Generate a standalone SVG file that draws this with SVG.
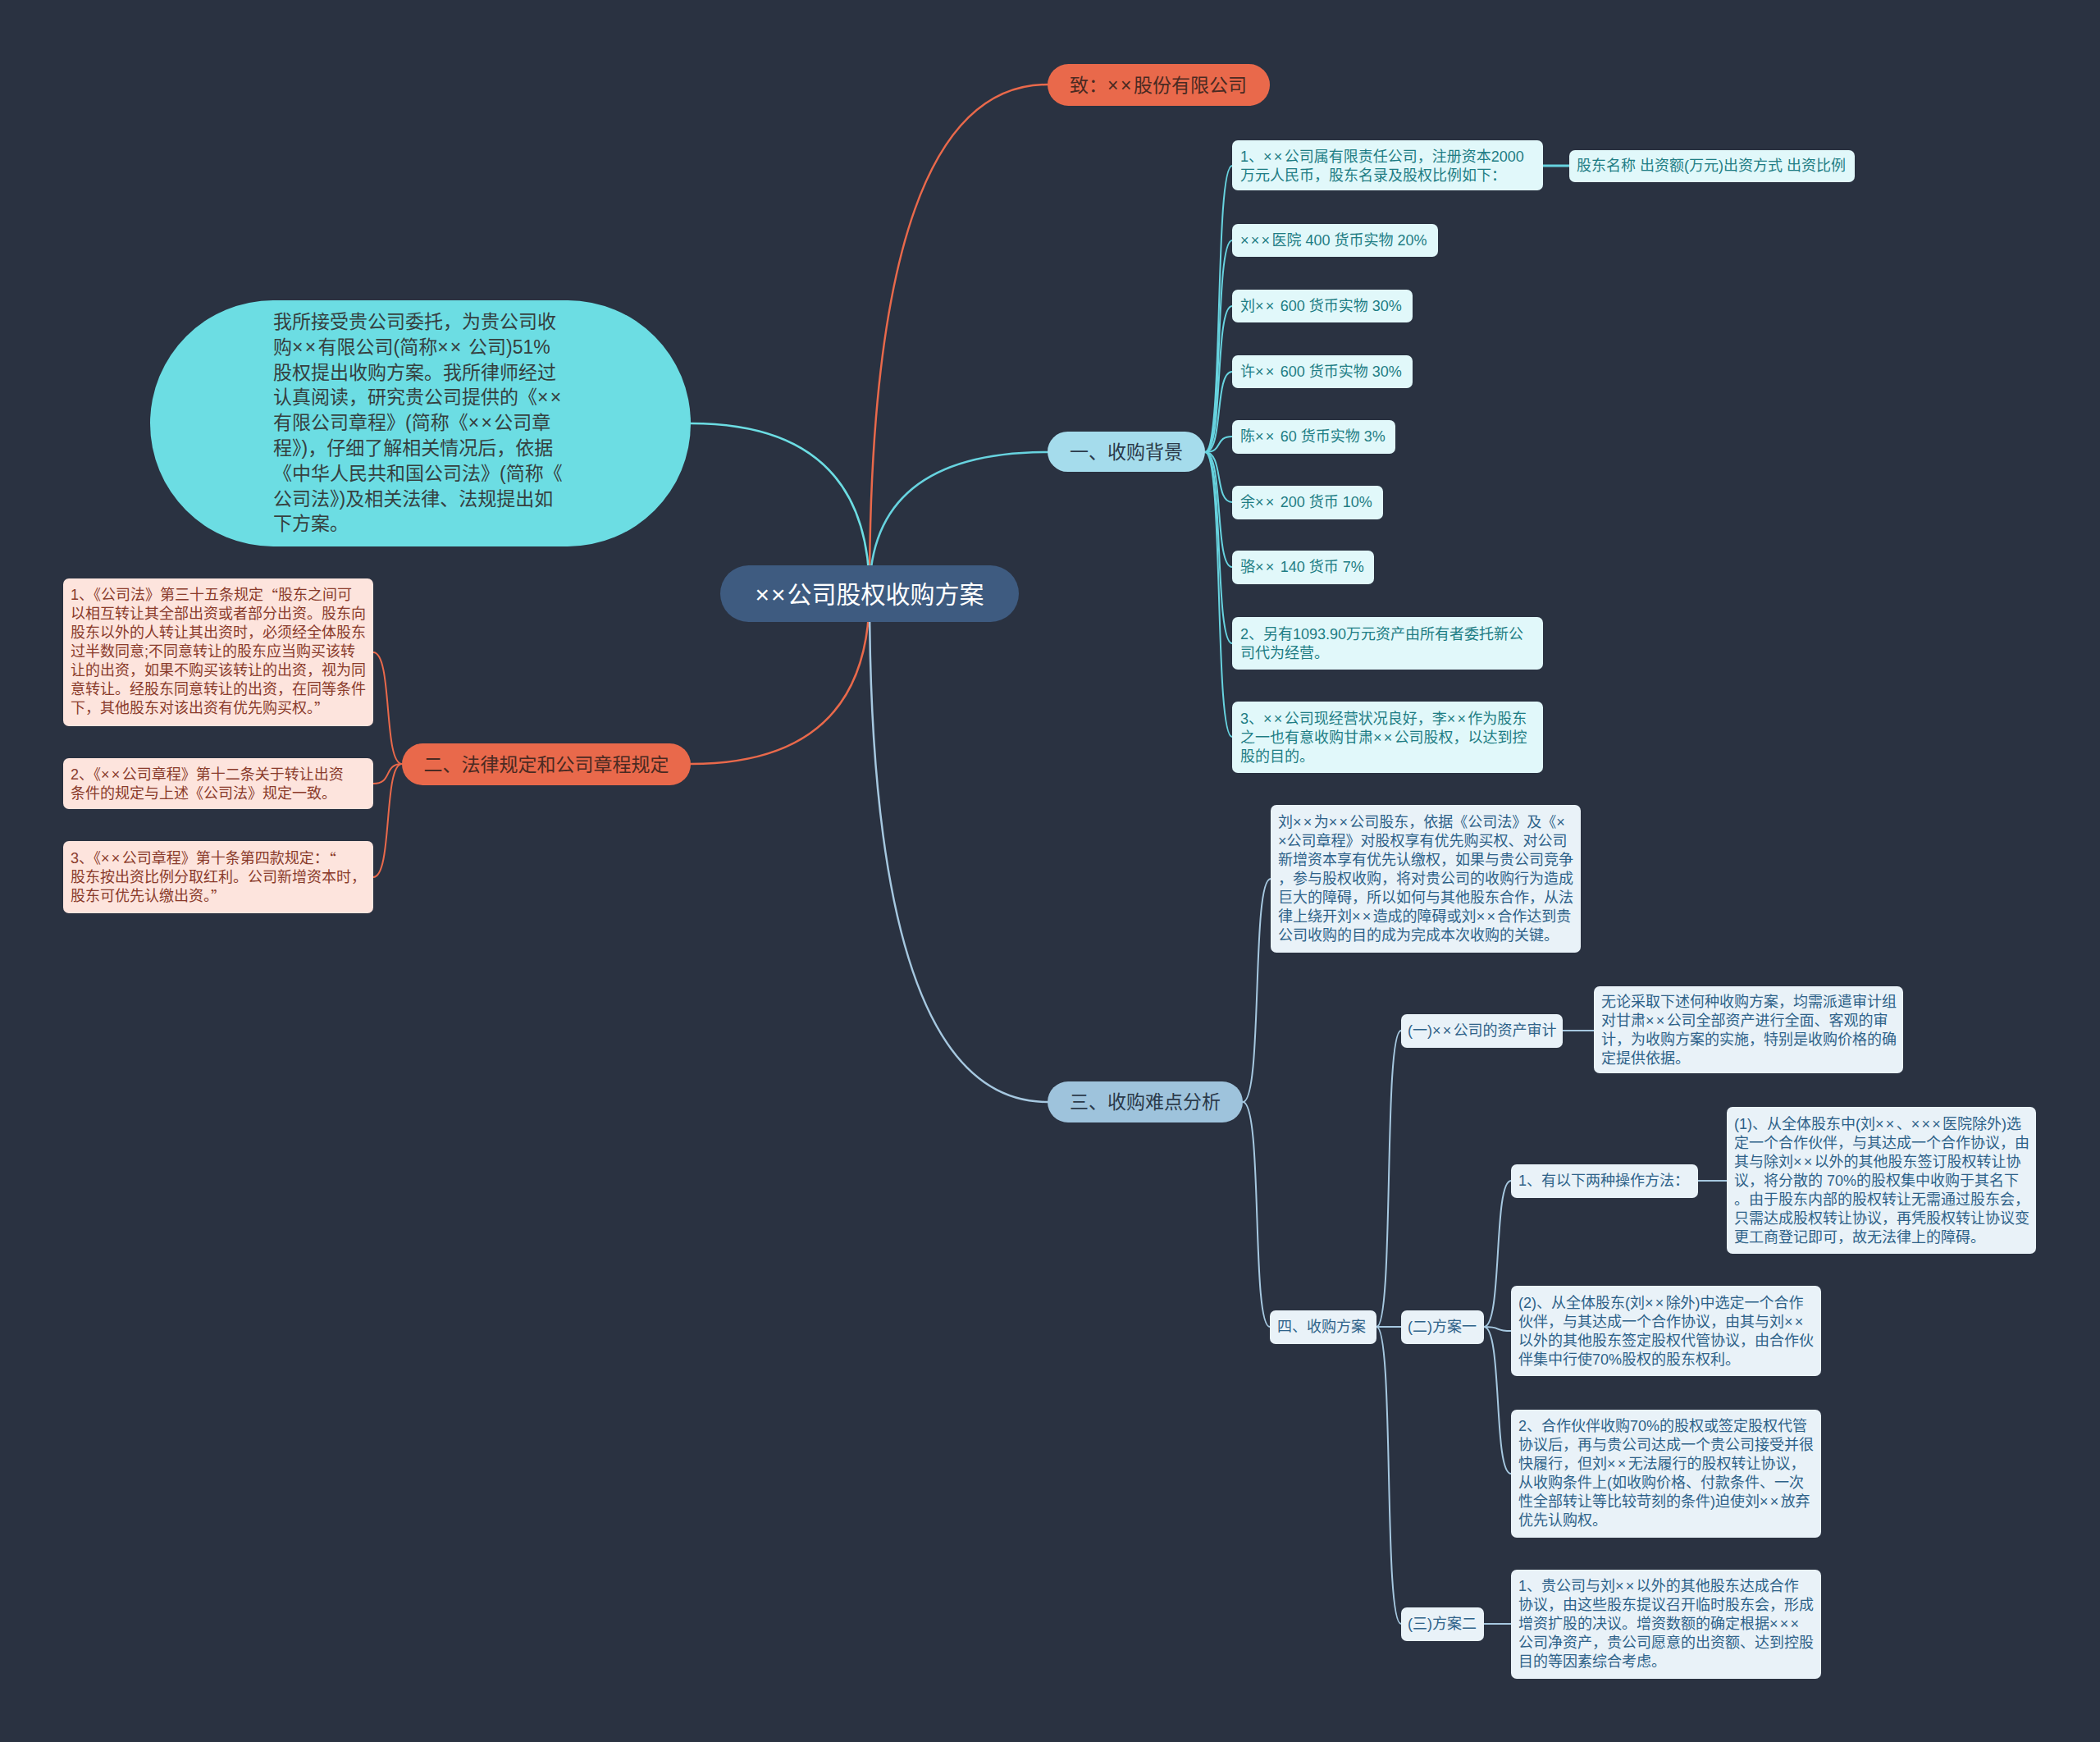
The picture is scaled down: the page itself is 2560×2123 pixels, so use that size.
<svg xmlns="http://www.w3.org/2000/svg" width="2560" height="2123" viewBox="0 0 2560 2123">
<style>
text{font-family:"Liberation Sans","Noto Sans CJK SC",sans-serif;dominant-baseline:central}
.x{letter-spacing:2.3px}
.q{font-family:"Noto Sans CJK SC",sans-serif}
.c{fill:none;stroke-width:2.5;stroke-linecap:round}
.or{stroke:#e9694b}.cy{stroke:#67d3df}.tq{stroke:#6cdde3}.bl{stroke:#a6c8e0}
.t23{font-size:23px}.t18{font-size:18px}
.lp{fill:#fde4dd}.lpt{fill:#8a3b2b}
.lc{fill:#e1f8fa}.lct{fill:#1e7d84}
.lb{fill:#e9f2f8}.lbt{fill:#2e6289}
</style>
<rect width="2560" height="2123" fill="#2a3241"/>
<g id="connectors">
<path class="c or" d="M1060 723 Q1060 103 1277 103"/>
<path class="c cy" d="M1060 723 Q1060 551 1277 551"/>
<path class="c tq" d="M1060 723 Q1060 516 842 516"/>
<path class="c or" d="M1060 723 Q1060 931 842 931"/>
<path class="c bl" d="M1060 723 Q1060 1343 1277 1343"/>
<g class="c cy" style="stroke-width:2">
<path d="M1469 551 C1492 551 1480 202 1502 202"/>
<path d="M1469 551 C1492 551 1480 293 1502 293"/>
<path d="M1469 551 C1492 551 1480 373 1502 373"/>
<path d="M1469 551 C1492 551 1480 453 1502 453"/>
<path d="M1469 551 C1492 551 1480 532 1502 532"/>
<path d="M1469 551 C1492 551 1480 612 1502 612"/>
<path d="M1469 551 C1492 551 1480 691 1502 691"/>
<path d="M1469 551 C1492 551 1480 784 1502 784"/>
<path d="M1469 551 C1492 551 1480 898 1502 898"/>
<path d="M1881 202 L1913 202" style="stroke-width:3"/>
</g>
<g class="c or" style="stroke-width:2">
<path d="M490 931 C467 931 479 795 455 795"/>
<path d="M490 931 C467 931 479 955 455 955"/>
<path d="M490 931 C467 931 479 1069 455 1069"/>
</g>
<g class="c bl" style="stroke-width:2">
<path d="M1515 1343 C1540 1343 1525 1071 1549 1071"/>
<path d="M1515 1343 C1540 1343 1525 1617 1548 1617"/>
<path d="M1678 1617 C1700 1617 1686 1256 1708 1256"/>
<path d="M1678 1617 L1708 1617"/>
<path d="M1678 1617 C1700 1617 1686 1979 1708 1979"/>
<path d="M1905 1256 L1943 1256"/>
<path d="M1809 1617 C1832 1617 1820 1439 1842 1439"/>
<path d="M1809 1617 C1832 1617 1820 1622 1842 1622"/>
<path d="M1809 1617 C1832 1617 1820 1796 1842 1796"/>
<path d="M2070 1439 L2105 1439"/>
<path d="M1809 1979 L1842 1979"/>
</g>
</g>
<g id="root">
<rect x="878" y="689" width="364" height="69" rx="34.5" fill="#3e5b80"/>
<text x="1060" y="724" font-size="30" fill="#ffffff" text-anchor="middle"><tspan style="letter-spacing:2px">××</tspan>公司股权收购方案</text>
</g>
<g id="n-zhi">
<rect x="1277" y="78" width="271" height="51" rx="25.5" fill="#e9694b"/>
<text class="t23" x="1412" y="104" fill="#4a2a22" text-anchor="middle">致：<tspan style="letter-spacing:2.5px">××</tspan>股份有限公司</text>
</g>
<g id="n-intro">
<rect x="183" y="366" width="659" height="300" rx="150" fill="#6cdde3"/>
<text class="t23" fill="#36403f">
<tspan x="333" y="392">我所接受贵公司委托，为贵公司收</tspan>
<tspan x="333" y="423">购<tspan class="x">××</tspan>有限公司(简称<tspan class="x">××</tspan> 公司)51%</tspan>
<tspan x="333" y="454">股权提出收购方案。我所律师经过</tspan>
<tspan x="333" y="484">认真阅读，研究贵公司提供的《<tspan class="x">××</tspan></tspan>
<tspan x="333" y="515">有限公司章程》(简称《<tspan class="x">××</tspan>公司章</tspan>
<tspan x="333" y="546">程》)，仔细了解相关情况后，依据</tspan>
<tspan x="333" y="577">《中华人民共和国公司法》(简称《</tspan>
<tspan x="333" y="608">公司法》)及相关法律、法规提出如</tspan>
<tspan x="333" y="638">下方案。</tspan>
</text>
</g>
<g id="n-bg">
<rect x="1277" y="526" width="192" height="49" rx="24.5" fill="#a5dcec"/>
<text class="t23" x="1373" y="551" fill="#2b3a4a" text-anchor="middle">一、收购背景</text>
</g>
<g id="n-law">
<rect x="490" y="906" width="352" height="51" rx="25.5" fill="#e9694b"/>
<text class="t23" x="666" y="932" fill="#4a2a22" text-anchor="middle">二、法律规定和公司章程规定</text>
</g>
<g id="n-diff">
<rect x="1277" y="1318" width="238" height="50" rx="25" fill="#9ec3dc"/>
<text class="t23" x="1396" y="1343" fill="#2b3a4a" text-anchor="middle">三、收购难点分析</text>
</g>
<g id="law-1">
<rect class="lp" x="77" y="705" width="378" height="180" rx="7"/>
<text class="t18 lpt">
<tspan x="86" y="725">1、《公司法》第三十五条规定<tspan class="q">“</tspan>股东之间可</tspan>
<tspan x="86" y="748">以相互转让其全部出资或者部分出资。股东向</tspan>
<tspan x="86" y="771">股东以外的人转让其出资时，必须经全体股东</tspan>
<tspan x="86" y="794">过半数同意;不同意转让的股东应当购买该转</tspan>
<tspan x="86" y="817">让的出资，如果不购买该转让的出资，视为同</tspan>
<tspan x="86" y="840">意转让。经股东同意转让的出资，在同等条件</tspan>
<tspan x="86" y="863">下，其他股东对该出资有优先购买权。<tspan class="q">”</tspan></tspan>
</text>
</g>
<g id="law-2">
<rect class="lp" x="77" y="924" width="378" height="62" rx="7"/>
<text class="t18 lpt">
<tspan x="86" y="944">2、《<tspan class="x">××</tspan>公司章程》第十二条关于转让出资</tspan>
<tspan x="86" y="967">条件的规定与上述《公司法》规定一致。</tspan>
</text>
</g>
<g id="law-3">
<rect class="lp" x="77" y="1025" width="378" height="88" rx="7"/>
<text class="t18 lpt">
<tspan x="86" y="1046">3、《<tspan class="x">××</tspan>公司章程》第十条第四款规定：<tspan class="q">“</tspan></tspan>
<tspan x="86" y="1069">股东按出资比例分取红利。公司新增资本时，</tspan>
<tspan x="86" y="1092">股东可优先认缴出资。<tspan class="q">”</tspan></tspan>
</text>
</g>
<g id="bg-1">
<rect class="lc" x="1502" y="171" width="379" height="61" rx="7"/>
<text class="t18 lct">
<tspan x="1512" y="191">1、<tspan class="x">××</tspan>公司属有限责任公司，注册资本2000</tspan>
<tspan x="1512" y="214">万元人民币，股东名录及股权比例如下：</tspan>
</text>
</g>
<g id="bg-1a">
<rect class="lc" x="1913" y="183" width="348" height="39" rx="7"/>
<text class="t18 lct" x="1922" y="202">股东名称 出资额(万元)出资方式 出资比例</text>
</g>
<g id="bg-h1">
<rect class="lc" x="1502" y="273" width="251" height="40" rx="7"/>
<text class="t18 lct" x="1512" y="293"><tspan class="x">×××</tspan>医院 400 货币实物 20%</text>
</g>
<g id="bg-h2">
<rect class="lc" x="1502" y="353" width="220" height="40" rx="7"/>
<text class="t18 lct" x="1512" y="373">刘<tspan class="x">××</tspan> 600 货币实物 30%</text>
</g>
<g id="bg-h3">
<rect class="lc" x="1502" y="433" width="220" height="40" rx="7"/>
<text class="t18 lct" x="1512" y="453">许<tspan class="x">××</tspan> 600 货币实物 30%</text>
</g>
<g id="bg-h4">
<rect class="lc" x="1502" y="512" width="199" height="41" rx="7"/>
<text class="t18 lct" x="1512" y="532">陈<tspan class="x">××</tspan> 60 货币实物 3%</text>
</g>
<g id="bg-h5">
<rect class="lc" x="1502" y="592" width="184" height="41" rx="7"/>
<text class="t18 lct" x="1512" y="612">余<tspan class="x">××</tspan> 200 货币 10%</text>
</g>
<g id="bg-h6">
<rect class="lc" x="1502" y="671" width="173" height="41" rx="7"/>
<text class="t18 lct" x="1512" y="691">骆<tspan class="x">××</tspan> 140 货币 7%</text>
</g>
<g id="bg-2">
<rect class="lc" x="1502" y="752" width="379" height="64" rx="7"/>
<text class="t18 lct">
<tspan x="1512" y="773">2、另有1093.90万元资产由所有者委托新公</tspan>
<tspan x="1512" y="796">司代为经营。</tspan>
</text>
</g>
<g id="bg-3">
<rect class="lc" x="1502" y="855" width="379" height="87" rx="7"/>
<text class="t18 lct">
<tspan x="1512" y="876">3、<tspan class="x">××</tspan>公司现经营状况良好，李<tspan class="x">××</tspan>作为股东</tspan>
<tspan x="1512" y="899">之一也有意收购甘肃<tspan class="x">××</tspan>公司股权，以达到控</tspan>
<tspan x="1512" y="922">股的目的。</tspan>
</text>
</g>
<g id="diff-1">
<rect class="lb" x="1549" y="981" width="378" height="180" rx="7"/>
<text class="t18 lbt">
<tspan x="1558" y="1002">刘<tspan class="x">××</tspan>为<tspan class="x">××</tspan>公司股东，依据《公司法》及《×</tspan>
<tspan x="1558" y="1025">×公司章程》对股权享有优先购买权、对公司</tspan>
<tspan x="1558" y="1048">新增资本享有优先认缴权，如果与贵公司竞争</tspan>
<tspan x="1558" y="1071">，参与股权收购，将对贵公司的收购行为造成</tspan>
<tspan x="1558" y="1094">巨大的障碍，所以如何与其他股东合作，从法</tspan>
<tspan x="1558" y="1117">律上绕开刘<tspan class="x">××</tspan>造成的障碍或刘<tspan class="x">××</tspan>合作达到贵</tspan>
<tspan x="1558" y="1140">公司收购的目的成为完成本次收购的关键。</tspan>
</text>
</g>
<g id="plan">
<rect class="lb" x="1548" y="1597" width="130" height="41" rx="7"/>
<text class="t18 lbt" x="1557" y="1617">四、收购方案</text>
</g>
<g id="plan-1">
<rect class="lb" x="1708" y="1236" width="197" height="41" rx="7"/>
<text class="t18 lbt" x="1716" y="1256">(一)<tspan class="x">××</tspan>公司的资产审计</text>
</g>
<g id="plan-1a">
<rect class="lb" x="1943" y="1202" width="377" height="106" rx="7"/>
<text class="t18 lbt">
<tspan x="1952" y="1221">无论采取下述何种收购方案，均需派遣审计组</tspan>
<tspan x="1952" y="1244">对甘肃<tspan class="x">××</tspan>公司全部资产进行全面、客观的审</tspan>
<tspan x="1952" y="1267">计，为收购方案的实施，特别是收购价格的确</tspan>
<tspan x="1952" y="1290">定提供依据。</tspan>
</text>
</g>
<g id="plan-2">
<rect class="lb" x="1708" y="1597" width="101" height="41" rx="7"/>
<text class="t18 lbt" x="1716" y="1617">(二)方案一</text>
</g>
<g id="plan-2a">
<rect class="lb" x="1842" y="1419" width="228" height="41" rx="7"/>
<text class="t18 lbt" x="1851" y="1439">1、有以下两种操作方法：</text>
</g>
<g id="plan-2a1">
<rect class="lb" x="2105" y="1349" width="377" height="179" rx="7"/>
<text class="t18 lbt">
<tspan x="2114" y="1370">(1)、从全体股东中(刘<tspan class="x">××</tspan>、<tspan class="x">×××</tspan>医院除外)选</tspan>
<tspan x="2114" y="1393">定一个合作伙伴，与其达成一个合作协议，由</tspan>
<tspan x="2114" y="1416">其与除刘<tspan class="x">××</tspan>以外的其他股东签订股权转让协</tspan>
<tspan x="2114" y="1439">议，将分散的 70%的股权集中收购于其名下</tspan>
<tspan x="2114" y="1462">。由于股东内部的股权转让无需通过股东会，</tspan>
<tspan x="2114" y="1485">只需达成股权转让协议，再凭股权转让协议变</tspan>
<tspan x="2114" y="1508">更工商登记即可，故无法律上的障碍。</tspan>
</text>
</g>
<g id="plan-2b">
<rect class="lb" x="1842" y="1567" width="378" height="110" rx="7"/>
<text class="t18 lbt">
<tspan x="1851" y="1588">(2)、从全体股东(刘<tspan class="x">××</tspan>除外)中选定一个合作</tspan>
<tspan x="1851" y="1611">伙伴，与其达成一个合作协议，由其与刘<tspan class="x">××</tspan></tspan>
<tspan x="1851" y="1634">以外的其他股东签定股权代管协议，由合作伙</tspan>
<tspan x="1851" y="1657">伴集中行使70%股权的股东权利。</tspan>
</text>
</g>
<g id="plan-2c">
<rect class="lb" x="1842" y="1718" width="378" height="156" rx="7"/>
<text class="t18 lbt">
<tspan x="1851" y="1738">2、合作伙伴收购70%的股权或签定股权代管</tspan>
<tspan x="1851" y="1761">协议后，再与贵公司达成一个贵公司接受并很</tspan>
<tspan x="1851" y="1784">快履行，但刘<tspan class="x">××</tspan>无法履行的股权转让协议，</tspan>
<tspan x="1851" y="1807">从收购条件上(如收购价格、付款条件、一次</tspan>
<tspan x="1851" y="1830">性全部转让等比较苛刻的条件)迫使刘<tspan class="x">××</tspan>放弃</tspan>
<tspan x="1851" y="1853">优先认购权。</tspan>
</text>
</g>
<g id="plan-3">
<rect class="lb" x="1708" y="1959" width="101" height="41" rx="7"/>
<text class="t18 lbt" x="1716" y="1979">(三)方案二</text>
</g>
<g id="plan-3a">
<rect class="lb" x="1842" y="1913" width="378" height="133" rx="7"/>
<text class="t18 lbt">
<tspan x="1851" y="1933">1、贵公司与刘<tspan class="x">××</tspan>以外的其他股东达成合作</tspan>
<tspan x="1851" y="1956">协议，由这些股东提议召开临时股东会，形成</tspan>
<tspan x="1851" y="1979">增资扩股的决议。增资数额的确定根据<tspan class="x">×××</tspan></tspan>
<tspan x="1851" y="2002">公司净资产，贵公司愿意的出资额、达到控股</tspan>
<tspan x="1851" y="2025">目的等因素综合考虑。</tspan>
</text>
</g>
</svg>
